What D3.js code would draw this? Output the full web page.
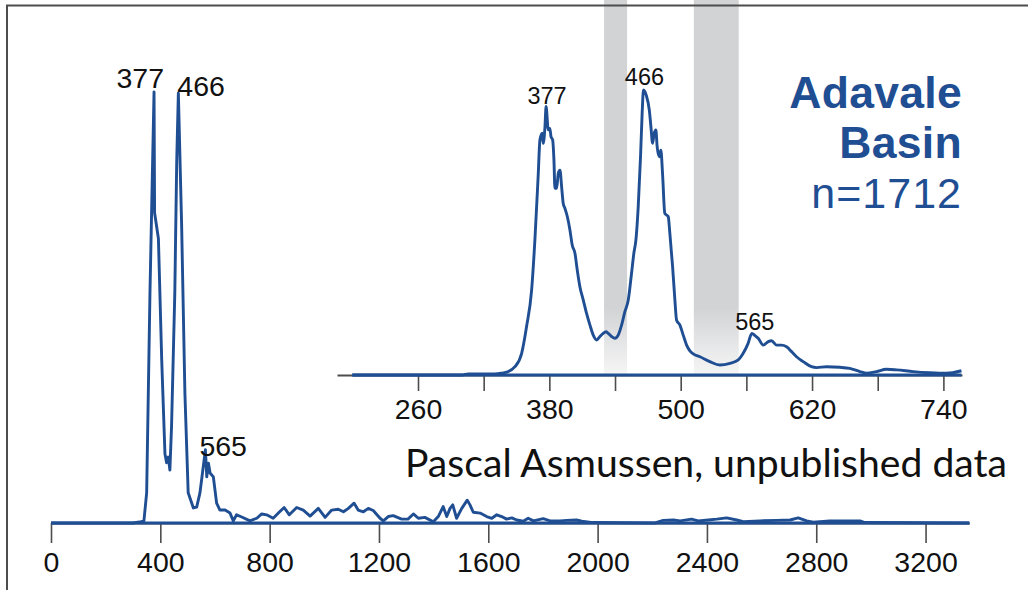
<!DOCTYPE html>
<html>
<head>
<meta charset="utf-8">
<script src="https://cdn.jsdelivr.net/npm/d3@7"></script>
<style>
  html, body { margin: 0; padding: 0; background: #fff; }
  svg { display: block; }
</style>
</head>
<body>
<svg id="chart" width="1028" height="590"></svg>
<script>
// Detrital zircon age spectrum (Ma), full range
const mainAges = [0, 300, 330, 340, 350, 362, 377, 379, 393, 399, 405, 417, 423, 429, 435, 441, 453, 460, 466,
  478, 490, 502, 521, 533, 545, 557, 565, 570, 576, 582, 594, 606, 618, 637, 655, 667, 679, 698, 728, 753,
  771, 789, 813, 832, 853, 872, 899, 923, 948, 978, 1003, 1027, 1051, 1070, 1088, 1109, 1124, 1143, 1161,
  1179, 1204, 1216, 1234, 1252, 1283, 1306, 1326, 1344, 1368, 1399, 1417, 1435, 1448, 1460, 1470, 1484,
  1503, 1523, 1533, 1545, 1570, 1594, 1613, 1631, 1649, 1667, 1686, 1704, 1728, 1746, 1765, 1801, 1826,
  1862, 1887, 1923, 1942, 1983, 2210, 2240, 2277, 2302, 2344, 2368, 2405, 2436, 2472, 2509, 2533, 2594,
  2655, 2704, 2734, 2765, 2789, 2850, 2960, 2978, 3360];
const mainDensity = [0, 0, 0.3, 0.5, 7, 53, 100, 72, 66, 52, 38, 16, 14, 15.3, 12.3, 22.3, 53.4, 84, 99.7,
  69, 30, 7, 3.5, 3.7, 7, 13, 17, 10.7, 13.9, 11.6, 10.7, 4.6, 3.0, 3.0, 2.3, 0.5, 1.9, 1.4, 0.5, 1.1,
  2.1, 1.9, 1.1, 2.3, 3.6, 1.9, 3.6, 3.0, 1.6, 3.4, 1.3, 3.0, 3.2, 2.6, 3.4, 4.6, 3.0, 2.6, 3.4,
  2.9, 1.1, 0.5, 1.5, 1.7, 0.9, 0.9, 2.1, 1.1, 1.3, 0.3, 1.5, 3.8, 1.5, 3.4, 4.2, 1.1,
  3.4, 5.3, 4.2, 2.5, 2.3, 1.5, 1.1, 1.9, 1.5, 0.9, 1.2, 0.7, 0.4, 1.1, 0.5, 1.0, 0.5,
  0.5, 0.6, 0.7, 0.4, 0.1, 0, 0.6, 0.7, 0.5, 0.9, 0.5, 0.7, 0.9, 1.2, 0.7, 0.3, 0.5,
  0.6, 0.7, 1.2, 0.5, 0.2, 0.5, 0.5, 0.1, 0];

// Detail spectrum, 200-757 Ma
const insetAges = [200, 300, 306, 330, 336, 341, 348.6, 354.7, 359.2, 363.8, 366.8, 369.9, 371.4, 373.5,
  374.4, 376, 377, 379, 380.5, 381.5, 383, 384.2, 385.1, 386.6, 388.2, 389.7, 391.2, 392.7, 394.2,
  396.4, 398.8, 400.9, 403.4, 405.5, 407.9, 411, 414, 417.1, 420.1, 423.2, 426.2, 429.2, 431.7, 433.8,
  436.9, 439.9, 442.9, 446, 449, 452.1, 455.1, 457.2, 459.1, 461.2, 463.3, 464.8, 466, 468.5, 471.3,
  472.8, 474.3, 475.8, 477.3, 478.5, 480.4, 481.9, 483.4, 485.5, 488.6, 490.1, 492.6, 494.7, 496.2,
  499.3, 502.3, 505.4, 508.4, 511.5, 517.6, 526.7, 535.8, 545, 552.6, 557.1, 561.5, 565, 568, 570.8,
  575.4, 580, 583, 587.6, 592.1, 596.7, 601.3, 605.8, 611.9, 619.5, 624.1, 633.2, 645.4, 654.5, 663.7,
  669.8, 678.9, 688, 697.2, 712.4, 727.6, 742.8, 756.5];
const insetDensity = [0, 0, 0.4, 0.4, 0.6, 1, 2.9, 7.6, 17, 29.8, 47.4, 70.8, 82.5, 84.8,
  81.3, 87.1, 94.2, 86, 86.5, 83.6, 82.5, 75.4, 65.5, 65.5, 70.8, 71.9, 66.1, 60.2, 58.5,
  55.6, 50.9, 45.6, 42.7, 36.8, 31, 26.3, 21.6, 17.5, 14, 12.3, 13.5, 14.6, 15.2, 14.6,
  13.5, 12.9, 14, 17.5, 22.2, 26.3, 35.7, 42.7, 47.4, 59.1, 76.6, 92, 100, 98.2, 93,
  87.1, 81.3, 84.8, 86, 80.1, 76.6, 78.9, 70.8, 56.7, 55.6, 49.7, 38, 26.3, 19.3,
  17.5, 14, 10.5, 8.5, 7.4, 6.4, 4.7, 3.5, 4.1, 5.3, 7.6, 11, 14.6, 13.8, 12.9,
  10.5, 11.7, 12, 10.5, 10.5, 9.9, 8.2, 6.4, 4.7, 2.9, 2.6, 2.9, 2.7, 2.3, 1.2,
  0.6, 1.2, 2.0, 1.8, 1.2, 0.8, 0.6, 1.5];

const mainTicks = [0, 400, 800, 1200, 1600, 2000, 2400, 2800, 3200];
const insetTicks = [260, 320, 380, 440, 500, 560, 620, 680, 740];
const insetTickLabels = [260, 380, 500, 620, 740];
const peakAges = [377, 466, 565];
const bandStart = [430, 512];
const bandEnd = [451, 553];
const titleLines = ["Adavale", "Basin", "n=1712"];
const creditText = "Pascal Asmussen, unpublished data";

const BLUE = "#1f4e93";
const AXIS = "#4d4d4d";
const LINE_W = 2.9;

const svg = d3.select("#chart");
svg.append("rect").attr("width", 1028).attr("height", 590).attr("fill", "#fff");

// ---- scales ----
const xMain = d3.scaleLinear().domain([0, 3360]).range([51, 969.3]);
const yMain = d3.scaleLinear().domain([0, 100]).range([523, 92]);
const xIn = d3.scaleLinear().domain([186, 757]).range([337, 962]);
const yIn = d3.scaleLinear().domain([0, 100]).range([375, 90]);

const mainData = mainAges.map((a, i) => ({ age: a, d: mainDensity[i] }));
const insetData = insetAges.map((a, i) => ({ age: a, d: insetDensity[i] }));

// ---- grey age bands in the detail panel ----
const defs = svg.append("defs");
const grad = defs.append("linearGradient")
  .attr("id", "bandFade")
  .attr("gradientUnits", "userSpaceOnUse")
  .attr("x1", 0).attr("x2", 0).attr("y1", 0).attr("y2", yIn(0));
grad.append("stop").attr("offset", 0).attr("stop-color", "#d2d3d5");
grad.append("stop").attr("offset", 0.82).attr("stop-color", "#d2d3d5");
grad.append("stop").attr("offset", 1).attr("stop-color", "#f6f6f6");

svg.append("g").selectAll("rect")
  .data(bandStart.map((s, i) => [s, bandEnd[i]]))
  .join("rect")
  .attr("x", d => xIn(d[0]))
  .attr("width", d => xIn(d[1]) - xIn(d[0]))
  .attr("y", 0)
  .attr("height", yIn(0))
  .attr("fill", "url(#bandFade)");

// ---- frame ----
svg.append("line").attr("x1", 6).attr("x2", 1028).attr("y1", 5.5).attr("y2", 5.5)
  .attr("stroke", AXIS).attr("stroke-width", 2);
svg.append("line").attr("x1", 7).attr("x2", 7).attr("y1", 5).attr("y2", 590)
  .attr("stroke", AXIS).attr("stroke-width", 2);

const tickFont = "'Liberation Sans', Arial, Helvetica, sans-serif";

// ---- main axis ----
const gMainAxis = svg.append("g")
  .attr("transform", `translate(0,${yMain(0)})`)
  .call(d3.axisBottom(xMain).tickValues(mainTicks).tickSize(20).tickSizeOuter(0).tickPadding(9)
    .tickFormat(d3.format("d")));
gMainAxis.select(".domain").attr("stroke", AXIS).attr("stroke-width", 2);
gMainAxis.selectAll(".tick line").attr("stroke", AXIS).attr("stroke-width", 1.6);
gMainAxis.selectAll(".tick text").attr("font-family", tickFont).attr("font-size", 28.5).attr("fill", "#111");

// ---- detail axis ----
const gInAxis = svg.append("g")
  .attr("transform", `translate(0,${yIn(0)})`)
  .call(d3.axisBottom(xIn).tickValues(insetTicks).tickSize(16).tickSizeOuter(0).tickPadding(8)
    .tickFormat(d => insetTickLabels.includes(d) ? d3.format("d")(d) : ""));
gInAxis.select(".domain").attr("stroke", AXIS).attr("stroke-width", 2);
gInAxis.selectAll(".tick line").attr("stroke", AXIS).attr("stroke-width", 1.6);
gInAxis.selectAll(".tick text").attr("font-family", tickFont).attr("font-size", 28.5).attr("fill", "#111");

// ---- spectra ----
const lineMain = d3.line().x(d => xMain(d.age)).y(d => yMain(d.d));
const lineIn = d3.line().x(d => xIn(d.age)).y(d => yIn(d.d)).curve(d3.curveMonotoneX);

// baseline closing each curve
svg.append("line")
  .attr("x1", xMain(mainAges[0])).attr("x2", xMain(mainAges[mainAges.length - 1]))
  .attr("y1", yMain(0)).attr("y2", yMain(0))
  .attr("stroke", BLUE).attr("stroke-width", LINE_W);
svg.append("line")
  .attr("x1", xIn(insetAges[0])).attr("x2", xIn(insetAges[insetAges.length - 1]))
  .attr("y1", yIn(0)).attr("y2", yIn(0))
  .attr("stroke", BLUE).attr("stroke-width", LINE_W);

svg.append("path").datum(mainData)
  .attr("d", lineMain)
  .attr("fill", "none").attr("stroke", BLUE).attr("stroke-width", LINE_W)
  .attr("stroke-linejoin", "round");
svg.append("path").datum(insetData)
  .attr("d", lineIn)
  .attr("fill", "none").attr("stroke", BLUE).attr("stroke-width", LINE_W)
  .attr("stroke-linejoin", "round");

// ---- peak labels ----
const densityAt = (data, age) => data.reduce((b, p) => Math.abs(p.age - age) < Math.abs(b.age - age) ? p : b).d;

const mainLabelStyle = [
  { anchor: "end", dx: 10, dy: -4 },
  { anchor: "start", dx: -1, dy: 3 },
  { anchor: "start", dx: -6, dy: 6 }
];
svg.append("g").selectAll("text")
  .data(peakAges)
  .join("text")
  .attr("x", (d, i) => xMain(d) + mainLabelStyle[i].dx)
  .attr("y", (d, i) => yMain(densityAt(mainData, d)) + mainLabelStyle[i].dy)
  .attr("text-anchor", (d, i) => mainLabelStyle[i].anchor)
  .attr("font-family", tickFont).attr("font-size", 28.5).attr("fill", "#111")
  .text(d => d);

const inLabelStyle = [
  { dx: 1, dy: -2.5 },
  { dx: 1, dy: -5 },
  { dx: 3, dy: -3 }
];
svg.append("g").selectAll("text")
  .data(peakAges)
  .join("text")
  .attr("x", (d, i) => xIn(d) + inLabelStyle[i].dx)
  .attr("y", (d, i) => yIn(densityAt(insetData, d)) + inLabelStyle[i].dy)
  .attr("text-anchor", "middle")
  .attr("font-family", tickFont).attr("font-size", 23.5).attr("fill", "#111")
  .text(d => d);

// ---- basin title ----
svg.append("g").selectAll("text")
  .data(titleLines)
  .join("text")
  .attr("x", 962)
  .attr("y", (d, i) => 108 + i * 50)
  .attr("text-anchor", "end")
  .attr("font-family", tickFont)
  .attr("font-size", (d, i) => i < 2 ? 44.5 : 43)
  .attr("font-weight", (d, i) => i < 2 ? "bold" : "normal")
  .attr("letter-spacing", (d, i) => i < 2 ? 0.3 : 1)
  .attr("fill", BLUE)
  .text(d => d);

// ---- data credit ----
svg.append("text")
  .attr("x", 405).attr("y", 477)
  .attr("font-family", "Lato, 'Open Sans', sans-serif")
  .attr("font-size", 39)
  .attr("fill", "#111")
  .attr("textLength", 602)
  .attr("lengthAdjust", "spacingAndGlyphs")
  .text(creditText);
</script>
</body>
</html>
